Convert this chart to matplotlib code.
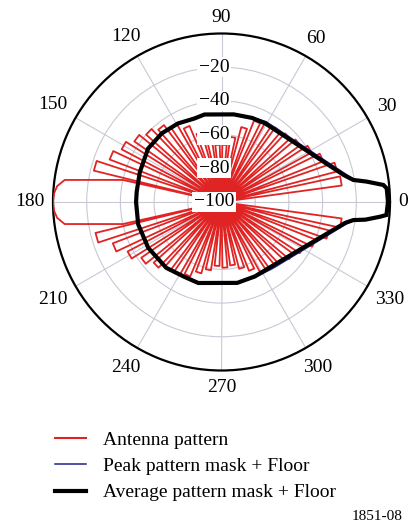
import numpy as np
import matplotlib
matplotlib.use("Agg")
import matplotlib.pyplot as plt
from matplotlib.lines import Line2D
from matplotlib.ticker import NullFormatter

plt.rcParams['font.family'] = ['Liberation Serif', 'DejaVu Serif']

# ---------------- data ----------------
FLOOR = -100.0

# Average pattern mask + floor (black)
avg_mask_deg = [0, 4.7, 6, 8, 9.5, 12.3, 61, 70, 82, 101, 108, 119, 131, 144, 160, 173,
                180, 195, 212, 230, 243, 254, 281, 294, 308, 350.4, 352.2, 353, 354.7, 355.5, 360]
avg_mask_db = [-1.2, -1.6, -3.4, -13, -20.7, -25.5, -46.6, -46.9, -47.5, -47.1, -47.9, -46.7,
               -46, -46.1, -48.4, -49.3, -49.3, -48.8, -48.7, -49, -50.4, -50, -51.1, -51.6,
               -51.6, -25.6, -21, -14, -5.5, -1.8, -1.2]

# Peak pattern mask + floor (blue)
peak_mask_deg = [0, 4.7, 6, 8, 9.5, 12.3, 61, 70, 82, 101, 108, 119, 131, 144, 160, 173,
                 180, 195, 212, 230, 243, 254, 281, 294, 308, 350.4, 352.2, 353, 354.7, 355.5, 360]
peak_mask_db = [-1.2, -1.6, -3.4, -12.5, -20.0, -24.0, -45.5, -46.5, -47.5, -47.1, -47.9, -46.7,
                -46, -46.1, -48.4, -49.3, -49.3, -48.8, -48.7, -49, -50.4, -50, -51.1, -51.0,
                -50.2, -24.2, -20.3, -14, -5.5, -1.8, -1.2]

# Antenna pattern: main lobe (offsets from 180 deg) and side lobes
main_lobe_off = [0, 3, 5.5, 8, 10.5, 12.6]
main_lobe_db = [0, -0.5, -2, -6, -28, -40]
main_lobe_null = 13.5

upper_lobe_deg = [10, 17, 24, 31, 38, 45, 52, 59, 66, 73, 80, 87, 94, 101, 108, 115,
                  122, 129, 136, 143, 150, 157, 164]
upper_lobe_db = [-28, -29, -35, -39, -42.5, -44.5, -45.5, -46.5, -48, -54, -61, -66, -66,
                 -62, -57, -51, -47, -43, -40, -37, -33, -29, -22]
lower_lobe_deg = [196, 203, 210, 217, 224, 231, 238, 245, 252, 259, 266, 273, 280, 287,
                  294, 301, 308, 315, 322, 329, 336, 343, 350]
lower_lobe_db = [-23, -31, -37, -42, -46, -49, -50, -52, -56, -59, -62, -61, -62, -59,
                 -56, -52, -51, -50, -47.5, -44.5, -40, -34, -28]

radial_ticks = [-100, -80, -60, -40, -20]
angle_ticks = list(range(0, 360, 30))
legend_labels = ["Antenna pattern", "Peak pattern mask + Floor", "Average pattern mask + Floor"]
figure_id = "1851-08"

# ---------------- build antenna pattern polyline ----------------
HW = 2.2  # half width of lobe tops (deg)


def lobe_trace(centers, peaks, null_start, null_end):
    nulls = [null_start] + [(a + b) / 2 for a, b in zip(centers[:-1], centers[1:])] + [null_end]
    th, rr = [], []
    for i, (c, p) in enumerate(zip(centers, peaks)):
        th += [nulls[i], c - HW, c + HW]
        rr += [FLOOR, p, p]
    th.append(nulls[-1])
    rr.append(FLOOR)
    return th, rr


th_u, r_u = lobe_trace(upper_lobe_deg, upper_lobe_db, 6.5, 180 - main_lobe_null)
th_l, r_l = lobe_trace(lower_lobe_deg, lower_lobe_db, 180 + main_lobe_null, 353.5)
th_m = [180 - o for o in main_lobe_off[::-1]] + [180 + o for o in main_lobe_off[1:]]
r_m = main_lobe_db[::-1] + main_lobe_db[1:]
pat_deg = th_u + th_m + th_l
pat_db = r_u + r_m + r_l

# ---------------- figure ----------------
W, H, DPI = 408, 529, 100
fig = plt.figure(figsize=(W / DPI, H / DPI), dpi=DPI)
cx, cy, R = 221.5, 202.0, 168.5
ax = fig.add_axes([(cx - R) / W, (H - cy - R) / H, 2 * R / W, 2 * R / H], projection='polar')

RED = '#e02424'
BLUE = '#22228a'

ax.plot(np.deg2rad(pat_deg), pat_db, color=RED, lw=1.3, zorder=3)
ax.plot(np.deg2rad(peak_mask_deg), peak_mask_db, color=BLUE, lw=1.1, zorder=4)
ax.plot(np.deg2rad(avg_mask_deg), avg_mask_db, color='black', lw=3.0, zorder=5,
        solid_joinstyle='miter')

ax.set_ylim(-100, 0)
ax.set_xticks(np.deg2rad(angle_ticks))
ax.set_yticks(radial_ticks[1:])
ax.xaxis.set_major_formatter(NullFormatter())
ax.yaxis.set_major_formatter(NullFormatter())
ax.grid(True, color='#c9c9d6', lw=0.8)
ax.spines['polar'].set_linewidth(1.6)
ax.spines['polar'].set_color('black')
ax.set_facecolor('white')

FS = 14
# angular labels (placed outside the circle, gap in pixels)
for a in angle_ticks:
    t = np.deg2rad(a)
    lab = str(a)
    hw = 5.0 * len(lab)
    hh = 6.5
    gap = 8.5 if abs(np.cos(t)) > 0.99 else 10
    d = gap + hw * abs(np.cos(t)) + hh * abs(np.sin(t))
    d_pt = d * 72 / DPI
    ax.annotate(lab, xy=(t, 0), xytext=(d_pt * np.cos(t), d_pt * np.sin(t)),
                textcoords='offset points', ha='center', va='center', fontsize=FS,
                annotation_clip=False)

# radial labels along 90 deg with white boxes
for rv in radial_ticks:
    ax.annotate('\u2212' + str(abs(rv)), xy=(np.pi / 2, rv), xytext=(-5.4, 0.0),
                textcoords='offset points', ha='center', va='center', fontsize=FS,
                zorder=10,
                bbox=dict(boxstyle='square,pad=0.08', fc='white', ec='none'))

handles = [Line2D([], [], color=RED, lw=1.5),
           Line2D([], [], color=BLUE, lw=1.1),
           Line2D([], [], color='black', lw=3.0)]
fig.legend(handles, legend_labels, loc='upper left',
           bbox_to_anchor=(55 / W, 1 - 431 / H), frameon=False, fontsize=FS,
           handlelength=1.6, handletextpad=0.85, labelspacing=0.45,
           borderpad=0, borderaxespad=0)

fig.text(403 / W, 1 - 517 / H, figure_id, ha='right', va='center', fontsize=11)

fig.savefig('out.png', dpi=DPI)
